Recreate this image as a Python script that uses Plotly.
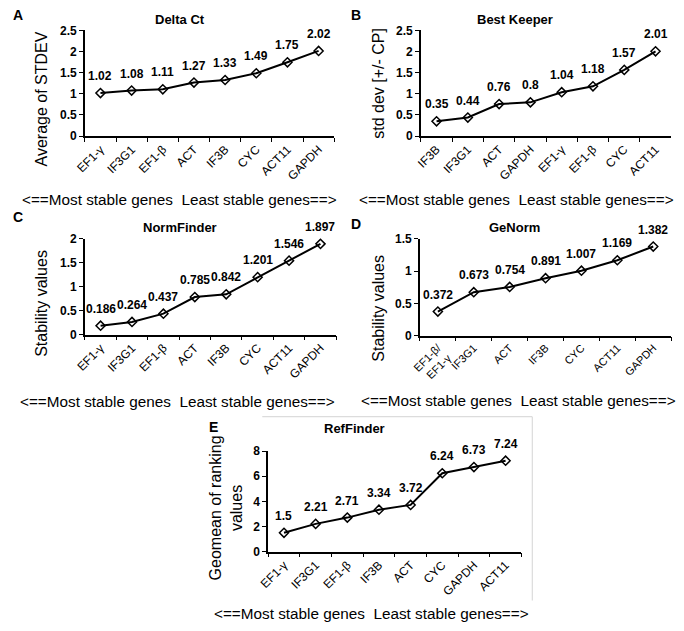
import plotly.graph_objects as go

# Delta Ct
delta_genes = ["EF1-γ", "IF3G1", "EF1-β", "ACT", "IF3B", "CYC", "ACT11", "GAPDH"]
delta_vals = [1.02, 1.08, 1.11, 1.27, 1.33, 1.49, 1.75, 2.02]

# BestKeeper
best_genes = ["IF3B", "IF3G1", "ACT", "GAPDH", "EF1-γ", "EF1-β", "CYC", "ACT11"]
best_vals = [0.35, 0.44, 0.76, 0.8, 1.04, 1.18, 1.57, 2.01]

# NormFinder
norm_genes = ["EF1-γ", "IF3G1", "EF1-β", "ACT", "IF3B", "CYC", "ACT11", "GAPDH"]
norm_vals = [0.186, 0.264, 0.437, 0.785, 0.842, 1.201, 1.546, 1.897]

# GeNorm
genorm_genes = ["EF1-β/<br>EF1-γ", "IF3G1", "ACT", "IF3B", "CYC", "ACT11", "GAPDH"]
genorm_vals = [0.372, 0.673, 0.754, 0.891, 1.007, 1.169, 1.382]

# RefFinder
ref_genes = ["EF1-γ", "IF3G1", "EF1-β", "IF3B", "ACT", "CYC", "GAPDH", "ACT11"]
ref_vals = [1.5, 2.21, 2.71, 3.34, 3.72, 6.24, 6.73, 7.24]

W, H = 684, 631
FONT = "Liberation Sans, Arial, sans-serif"
bottom_text = "<==Most stable genes  Least stable genes==>"


def px_x(v):
    return v / W


def px_y(v):
    return 1 - v / H


# one entry per panel: data, plot box in pixels, y range, texts and where they go
panels = [
    dict(genes=delta_genes, vals=delta_vals, box=(76, 329, 24, 132), ymax=2.5, dtick=0.5, xfont=12,
         title="Delta Ct", title_pos=(173, 13), letter="A", letter_pos=(8, 8),
         ytitle="Average of STDEV", ytitle_pos=(32, 94), bottom_pos=(172, 197)),
    dict(genes=best_genes, vals=best_vals, box=(417, 671, 24, 132), ymax=2.5, dtick=0.5, xfont=12,
         title="Best Keeper", title_pos=(512, 13), letter="B", letter_pos=(351, 8),
         ytitle="std dev [+/- CP]", ytitle_pos=(374, 78), bottom_pos=(514, 197)),
    dict(genes=norm_genes, vals=norm_vals, box=(76, 331, 237, 335), ymax=2, dtick=0.5, xfont=12,
         title="NormFinder", title_pos=(173, 226), letter="C", letter_pos=(8, 215),
         ytitle="Stability values", ytitle_pos=(32, 303), bottom_pos=(170, 403)),
    dict(genes=genorm_genes, vals=genorm_vals, box=(416, 671, 237, 336), ymax=1.5, dtick=0.5, xfont=11,
         title="GeNorm", title_pos=(512, 226), letter="D", letter_pos=(351, 222),
         ytitle="Stability values", ytitle_pos=(374, 308), bottom_pos=(516, 402)),
    dict(genes=ref_genes, vals=ref_vals, box=(262, 519, 454, 557), ymax=8, dtick=2, xfont=12,
         title="RefFinder", title_pos=(350, 431), letter="E", letter_pos=(207, 430),
         ytitle="Geomean of ranking<br>values", ytitle_pos=(219, 512), bottom_pos=(367, 620)),
]

fig = go.Figure()
annotations = []
layout_axes = {}

for i, p in enumerate(panels):
    suffix = "" if i == 0 else str(i + 1)
    xref = "x" + suffix
    yref = "y" + suffix
    x0, x1, y0, y1 = p["box"]

    fig.add_trace(go.Scatter(
        x=p["genes"], y=p["vals"], mode="lines+markers",
        xaxis=xref, yaxis=yref,
        line=dict(color="black", width=2),
        marker=dict(symbol="diamond-open", size=7, color="black", line=dict(width=1.5, color="black")),
        cliponaxis=False, hoverinfo="x+y",
    ))

    layout_axes["xaxis" + suffix] = dict(
        domain=[px_x(x0), px_x(x1)], anchor=yref, type="category",
        range=[-0.5, len(p["genes"]) - 0.5],
        showline=True, linecolor="black", linewidth=1.5,
        ticks="outside", tickson="boundaries", ticklen=4, tickcolor="black", tickwidth=1.2,
        tickangle=-45, tickfont=dict(family=FONT, size=p["xfont"], color="black"),
        showgrid=False, zeroline=False,
    )
    # small pad on top so the last tick label is kept
    layout_axes["yaxis" + suffix] = dict(
        domain=[px_y(y1), px_y(y0)], anchor=xref,
        range=[0, p["ymax"] * 1.002], tick0=0, dtick=p["dtick"],
        showline=True, linecolor="black", linewidth=1.5,
        ticks="outside", ticklen=4, tickcolor="black", tickwidth=1.2,
        tickfont=dict(family=FONT, size=12, color="black", weight="bold"),
        showgrid=False, zeroline=False,
    )

    # value labels above the points
    for g, v in zip(p["genes"], p["vals"]):
        annotations.append(dict(
            x=g, y=v, xref=xref, yref=yref, text=str(v), showarrow=False,
            yshift=17, font=dict(family=FONT, size=12, color="black", weight="bold"),
        ))

    # chart title
    annotations.append(dict(
        x=px_x(p["title_pos"][0]), y=px_y(p["title_pos"][1]), xref="paper", yref="paper",
        text=p["title"], showarrow=False, xanchor="center", yanchor="middle",
        font=dict(family=FONT, size=13, color="black", weight="bold"),
    ))
    # panel letter
    annotations.append(dict(
        x=px_x(p["letter_pos"][0]), y=px_y(p["letter_pos"][1]), xref="paper", yref="paper",
        text=p["letter"], showarrow=False, xanchor="center", yanchor="middle",
        font=dict(family=FONT, size=14, color="black", weight="bold"),
    ))
    # y axis title
    annotations.append(dict(
        x=px_x(p["ytitle_pos"][0]), y=px_y(p["ytitle_pos"][1]), xref="paper", yref="paper",
        text=p["ytitle"], showarrow=False, textangle=-90, xanchor="center", yanchor="middle",
        font=dict(family=FONT, size=16, color="black"),
    ))
    # stability direction text
    annotations.append(dict(
        x=px_x(p["bottom_pos"][0]), y=px_y(p["bottom_pos"][1]), xref="paper", yref="paper",
        text=bottom_text, showarrow=False, xanchor="center", yanchor="middle",
        font=dict(family=FONT, size=15.3, color="black"),
    ))

# faint frame left around panel E
shapes = [
    dict(type="line", xref="paper", yref="paper", x0=px_x(256), x1=px_x(530), y0=px_y(419), y1=px_y(419),
         line=dict(color="#d4d4d4", width=1)),
    dict(type="line", xref="paper", yref="paper", x0=px_x(530), x1=px_x(530), y0=px_y(419), y1=px_y(607),
         line=dict(color="#d4d4d4", width=1)),
]

fig.update_layout(
    width=W, height=H, margin=dict(l=0, r=0, t=0, b=0),
    paper_bgcolor="white", plot_bgcolor="white",
    showlegend=False, annotations=annotations, shapes=shapes,
    font=dict(family=FONT, color="black"),
    **layout_axes,
)

# page has a default 8px body margin, drop it so the figure fills the window
fig.write_html("out.html", config={"displayModeBar": False},
               post_script="document.body.style.margin = '0';")
